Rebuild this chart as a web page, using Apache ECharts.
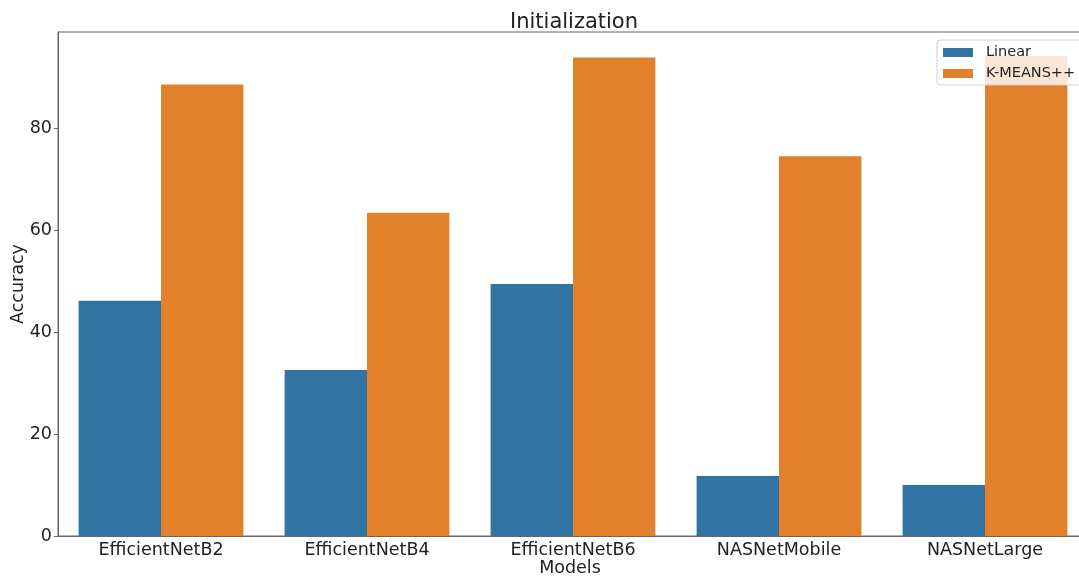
<!DOCTYPE html>
<html>
<head>
<meta charset="utf-8">
<script src="https://cdn.jsdelivr.net/npm/echarts@6/dist/echarts.min.js"></script>
<style>
  html, body { margin: 0; padding: 0; background: #fff; }
  #chart { width: 1079px; height: 577px; }
</style>
</head>
<body>
<div id="chart"></div>
<script>
// Accuracy per model for two cluster-initialization strategies
const models = ['EfficientNetB2', 'EfficientNetB4', 'EfficientNetB6', 'NASNetMobile', 'NASNetLarge'];
const linearAcc = [46.2, 32.6, 49.5, 11.8, 10.0];
const kmeansAcc = [88.7, 63.5, 94.0, 74.6, 94.3];
const yTicks = [0, 20, 40, 60, 80];
const xTitle = 'Models';
const yTitle = 'Accuracy';

const font = 'DejaVu Sans';
const chart = echarts.init(document.getElementById('chart'), null, { renderer: 'canvas' });

// plot area box
const G = { left: 58, top: 32, width: 1030, height: 504 };

chart.setOption({
  animation: false,
  backgroundColor: '#ffffff',
  title: {
    text: 'Initialization',
    left: 569,
    top: 7,
    textAlign: 'center',
    textStyle: { fontFamily: font, fontSize: 21, fontWeight: 'normal', color: '#222' }
  },
  legend: {
    orient: 'vertical',
    left: 937,
    top: 40,
    icon: 'rect',
    itemWidth: 30,
    itemHeight: 9,
    itemGap: 6,
    padding: [5, 10, 4, 6],
    backgroundColor: 'rgba(255,255,255,0.8)',
    borderColor: '#d0d0d0',
    borderWidth: 1,
    borderRadius: 3,
    textStyle: { fontFamily: font, fontSize: 14.5, color: '#222', padding: [0, 0, 0, 8] },
    data: ['Linear', 'K-MEANS++']
  },
  // axis titles
  graphic: [
    {
      type: 'text',
      x: G.left + 512,
      y: 568,
      style: { text: xTitle, fontFamily: font, fontSize: 17.5, fill: '#222', textAlign: 'center', textVerticalAlign: 'middle' }
    },
    {
      type: 'text',
      x: 18,
      y: G.top + G.height / 2,
      rotation: Math.PI / 2,
      style: { text: yTitle, fontFamily: font, fontSize: 17.5, fill: '#222', textAlign: 'center', textVerticalAlign: 'middle' }
    }
  ],
  grid: {
    left: G.left,
    top: G.top,
    width: G.width,
    height: G.height,
    outerBoundsMode: 'none',
    containLabel: false,
    show: true,
    borderColor: '#666',
    borderWidth: 1,
    backgroundColor: 'transparent'
  },
  xAxis: {
    type: 'category',
    data: models,
    axisLine: { lineStyle: { color: '#666', width: 1 } },
    axisTick: { alignWithLabel: true, length: 4, lineStyle: { color: '#666' } },
    axisLabel: { fontFamily: font, fontSize: 17.5, color: '#222', margin: 5 },
    splitLine: { show: false }
  },
  yAxis: {
    type: 'value',
    min: 0,
    max: 99,
    interval: 20,
    axisLine: { show: true, lineStyle: { color: '#666', width: 1 } },
    axisTick: { show: true, length: 4, lineStyle: { color: '#666' }, customValues: yTicks },
    axisLabel: { fontFamily: font, fontSize: 17.5, color: '#222', margin: 6, customValues: yTicks },
    splitLine: { show: false }
  },
  series: [
    {
      name: 'Linear',
      type: 'bar',
      data: linearAcc,
      barGap: '0%',
      barCategoryGap: '20%',
      itemStyle: { color: '#3274a1' }
    },
    {
      name: 'K-MEANS++',
      type: 'bar',
      data: kmeansAcc,
      barGap: '0%',
      barCategoryGap: '20%',
      itemStyle: { color: '#e1812c' }
    }
  ]
});
</script>
</body>
</html>
